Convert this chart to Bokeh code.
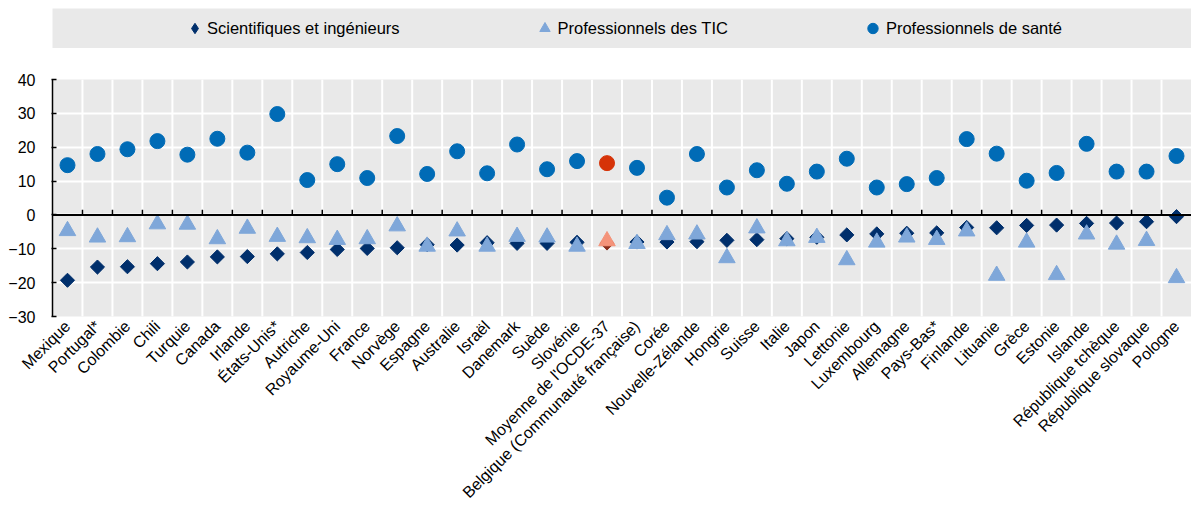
import math
from bokeh.plotting import figure
from bokeh.models import (FactorRange, Range1d, FixedTicker, Span, Legend, LegendItem,
                          ColumnDataSource)
from bokeh.layouts import column
from bokeh.transform import dodge
from bokeh.embed import file_html
from bokeh.resources import INLINE

categories = ["Mexique", "Portugal*", "Colombie", "Chili", "Turquie", "Canada", "Irlande",
              "États-Unis*", "Autriche", "Royaume-Uni", "France", "Norvège", "Espagne",
              "Australie", "Israël", "Danemark", "Suède", "Slovénie", "Moyenne de l'OCDE-37",
              "Belgique (Communauté française)", "Corée", "Nouvelle-Zélande", "Hongrie",
              "Suisse", "Italie", "Japon", "Lettonie", "Luxembourg", "Allemagne", "Pays-Bas*",
              "Finlande", "Lituanie", "Grèce", "Estonie", "Islande", "République tchèque",
              "République slovaque", "Pologne"]

scientifiques = [-19.3, -15.4, -15.3, -14.4, -13.9, -12.4, -12.3, -11.5, -11.1, -10.2, -9.9,
                 -9.7, -8.8, -8.9, -8.2, -8.4, -8.4, -8.1, -8.3, -8.0, -8.0, -7.9, -7.5,
                 -7.3, -7.0, -6.6, -5.9, -5.6, -5.4, -5.3, -3.7, -3.8, -3.1, -3.0, -2.5,
                 -2.4, -2.0, -0.5]
tic = [-4.7, -6.6, -6.5, -2.7, -2.8, -7.1, -4.0, -6.4, -6.8, -7.3, -7.1, -3.3, -9.3, -4.8,
       -9.3, -6.4, -6.6, -9.3, -7.7, -8.5, -5.9, -5.7, -12.7, -3.9, -7.7, -6.7, -13.3, -8.1,
       -6.6, -7.3, -4.8, -17.9, -8.1, -17.7, -5.7, -8.7, -7.6, -18.6]
sante = [14.7, 18.0, 19.4, 21.8, 17.8, 22.5, 18.4, 29.8, 10.3, 15.0, 10.9, 23.3, 12.1, 18.8,
         12.3, 20.8, 13.5, 15.9, 15.3, 13.9, 5.1, 18.0, 8.1, 13.2, 9.2, 12.8, 16.6, 8.1, 9.1,
         10.9, 22.4, 18.1, 10.1, 12.4, 21.0, 12.8, 12.8, 17.4]
series_names = ["Scientifiques et ingénieurs", "Professionnels des TIC", "Professionnels de santé"]
y_ticks = [-30, -20, -10, 0, 10, 20, 30, 40]

HIGHLIGHT = "Moyenne de l'OCDE-37"
NAVY, LIGHT, BLUE = "#002F6C", "#7FA7D9", "#006BB6"
NAVY_H, LIGHT_H, BLUE_H = "#8A2F1E", "#F4937A", "#D63308"
BG = "#E9E9E9"
FONT = "Liberation Sans"

def cols(base, hi):
    return [hi if c == HIGHLIGHT else base for c in categories]

src = ColumnDataSource(dict(
    cat=categories, sci=scientifiques, tic=tic, sante=sante,
    c_sci=cols(NAVY, NAVY_H), c_tic=cols(LIGHT, LIGHT_H), c_sante=cols(BLUE, BLUE_H)))
nb = len(categories) - 1
bsrc = ColumnDataSource(dict(cat=categories[1:], lo=[y_ticks[0]] * nb, hi=[y_ticks[-1]] * nb,
                             z=[0] * nb, t=[1.5] * nb))

W = 1191
LEFT = 52

# ---- legend strip ----
lf = figure(width=W, height=48, x_range=(0, 1), y_range=(0, 1), toolbar_location=None,
            output_backend="svg", min_border_left=LEFT, min_border_right=0, min_border_top=8,
            min_border_bottom=0, background_fill_color=BG, outline_line_color=None)
lf.axis.visible = False
lf.grid.visible = False
# placeholder renderers for legend glyphs (kept outside the visible range)
dummy = ColumnDataSource(dict(x=[5], y=[5]))
r1 = lf.scatter("x", "y", source=dummy, marker="diamond", color=NAVY)
r2 = lf.scatter("x", "y", source=dummy, marker="triangle", color=LIGHT)
r3 = lf.scatter("x", "y", source=dummy, marker="circle", color=BLUE)
leg = Legend(items=[LegendItem(label=series_names[0], renderers=[r1]),
                    LegendItem(label=series_names[1], renderers=[r2]),
                    LegendItem(label=series_names[2], renderers=[r3])],
             orientation="horizontal", location="center", spacing=132,
             glyph_width=26, glyph_height=28, label_standoff=0, padding=0, margin=0,
             background_fill_alpha=0, border_line_color=None,
             label_text_font_size="16.5px", label_text_font=FONT, label_text_color="#000000")
lf.add_layout(leg)

# ---- main chart ----
p = figure(width=W, height=462, x_range=FactorRange(*categories), y_range=Range1d(-30, 40),
           toolbar_location=None, output_backend="svg", min_border_left=LEFT,
           min_border_right=0, min_border_top=31, min_border_bottom=193,
           background_fill_color=BG, outline_line_color=None)
p.xgrid.visible = False
p.ygrid.grid_line_color = "white"
p.ygrid.grid_line_width = 2
p.yaxis.ticker = FixedTicker(ticks=y_ticks)
p.yaxis.axis_line_color = "black"
p.yaxis.axis_line_width = 1.5
p.yaxis.major_tick_line_color = "black"
p.yaxis.major_tick_line_width = 1.5
p.yaxis.major_tick_in = 4
p.yaxis.major_tick_out = 1
p.yaxis.minor_tick_line_color = None
p.yaxis.major_label_standoff = 16
p.yaxis.major_label_text_font_size = "16px"
p.yaxis.major_label_text_font = FONT
p.yaxis.major_label_text_color = "#000000"

p.xaxis.axis_line_color = None
p.xaxis.major_tick_line_color = None
p.xaxis.major_tick_out = 0
p.xaxis.major_tick_in = 0
p.xaxis.major_label_orientation = math.pi / 4
p.xaxis.major_label_standoff = 7
p.xaxis.major_label_text_font_size = "16px"
p.xaxis.major_label_text_font = FONT
p.xaxis.major_label_text_color = "#000000"

# vertical white grid lines at category boundaries
p.segment(x0=dodge("cat", -0.5, range=p.x_range), y0="lo",
          x1=dodge("cat", -0.5, range=p.x_range), y1="hi",
          source=bsrc, line_color="white", line_width=2)

# zero line and its ticks
p.add_layout(Span(location=0, dimension="width", line_color="black", line_width=2))
p.segment(x0=dodge("cat", -0.5, range=p.x_range), y0="z",
          x1=dodge("cat", -0.5, range=p.x_range), y1="t",
          source=bsrc, line_color="black", line_width=1.5)

p.scatter("cat", "sci", source=src, marker="square", angle=math.pi / 4, size=10,
          fill_color="c_sci", line_color="c_sci")
p.scatter("cat", "tic", source=src, marker="triangle", size=16.5,
          fill_color="c_tic", line_color="c_tic")
p.scatter("cat", "sante", source=src, marker="circle", size=15,
          fill_color="c_sante", line_color="c_sante")

layout = column(lf, p, spacing=0)
open("out.html", "w").write(file_html(layout, INLINE))
